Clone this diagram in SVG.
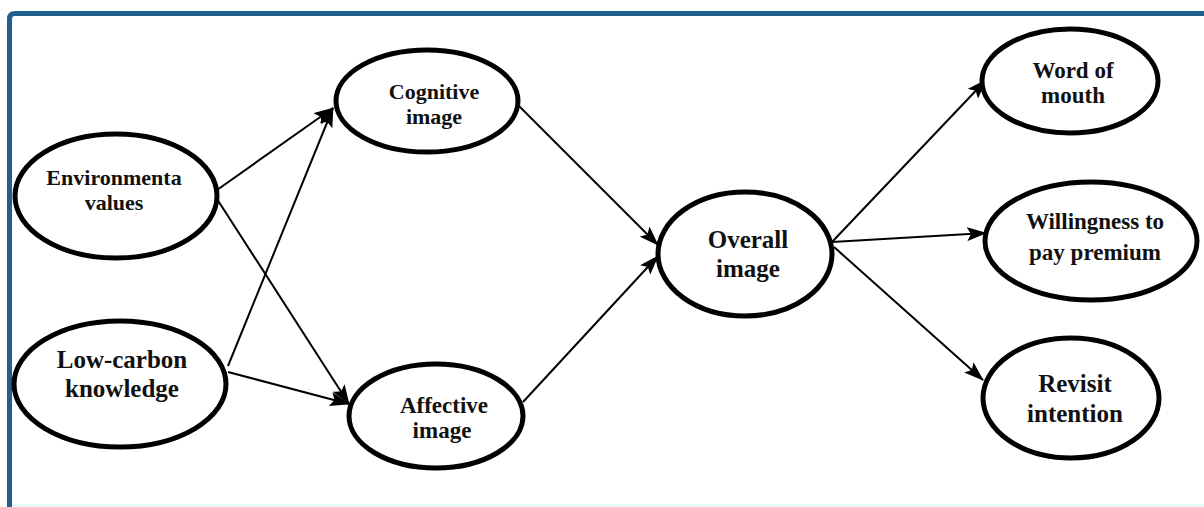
<svg xmlns="http://www.w3.org/2000/svg" width="1204" height="507" viewBox="0 0 1204 507">
<style>
.node ellipse{fill:#fff;stroke:#000;stroke-width:5}
.node text{font-family:"Liberation Serif","Times New Roman",serif;font-weight:bold;text-anchor:middle;fill:#111}
.conn line{stroke:#000;stroke-width:2;marker-end:url(#ah)}
</style>
<defs>
<marker id="ah" markerUnits="userSpaceOnUse" markerWidth="20" markerHeight="14" viewBox="0 0 20 14" refX="19" refY="7" orient="auto">
<path d="M0,0 L20,7 L0,14 L4,7 Z" fill="#000"/>
</marker>
</defs>
<rect x="0" y="0" width="1204" height="507" fill="#fff"/>
<path d="M9.5,507 V19 Q9.5,13.5 15,13.5 H1204" fill="none" stroke="#1f6091" stroke-width="5"/>
<line x1="12" y1="505.5" x2="1204" y2="505.5" stroke="#dcf7fa" stroke-width="2"/>
<g class="conn">
<line x1="217" y1="190" x2="333" y2="108"/>
<line x1="228" y1="366" x2="333" y2="108"/>
<line x1="217" y1="199" x2="349" y2="404"/>
<line x1="228" y1="372" x2="349" y2="404"/>
<line x1="519" y1="106" x2="658" y2="245"/>
<line x1="523" y1="402" x2="658" y2="256"/>
<line x1="832" y1="242" x2="986" y2="80"/>
<line x1="832" y1="242" x2="986" y2="233"/>
<line x1="834" y1="247" x2="983" y2="380"/>
</g>
<g id="env" class="node">
<ellipse cx="116" cy="196" rx="101" ry="62"/>
<text x="114" y="185" font-size="22">Environmenta</text>
<text x="114" y="210" font-size="22">values</text>
</g>
<g id="lowcarbon" class="node">
<ellipse cx="120" cy="384" rx="106" ry="63"/>
<text x="122" y="368" font-size="25">Low-carbon</text>
<text x="122" y="397" font-size="25">knowledge</text>
</g>
<g id="cognitive" class="node">
<ellipse cx="427" cy="101" rx="91" ry="51"/>
<text x="434" y="99" font-size="22">Cognitive</text>
<text x="434" y="124" font-size="22">image</text>
</g>
<g id="affective" class="node">
<ellipse cx="436" cy="416" rx="87" ry="52"/>
<text x="444" y="413" font-size="23">Affective</text>
<text x="442" y="438" font-size="23">image</text>
</g>
<g id="overall" class="node">
<ellipse cx="745" cy="254" rx="87" ry="62"/>
<text x="748" y="248" font-size="25">Overall</text>
<text x="748" y="277" font-size="25">image</text>
</g>
<g id="wom" class="node">
<ellipse cx="1070" cy="81" rx="88" ry="52"/>
<text x="1073" y="78" font-size="23">Word of</text>
<text x="1073" y="103" font-size="23">mouth</text>
</g>
<g id="wtp" class="node">
<ellipse cx="1091" cy="241" rx="106" ry="59"/>
<text x="1095" y="229" font-size="23">Willingness to</text>
<text x="1095" y="260" font-size="23">pay premium</text>
</g>
<g id="revisit" class="node">
<ellipse cx="1071" cy="398" rx="88" ry="60"/>
<text x="1075" y="392" font-size="25">Revisit</text>
<text x="1075" y="422" font-size="25">intention</text>
</g>
</svg>
